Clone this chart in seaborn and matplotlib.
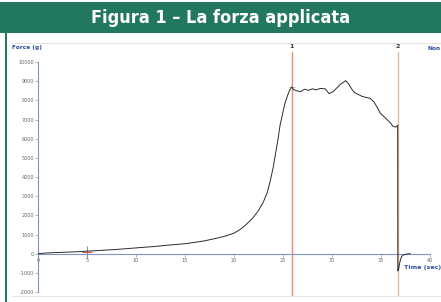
import matplotlib
matplotlib.use("Agg")
import matplotlib.pyplot as plt
import seaborn as sns
import pandas as pd
from matplotlib.patches import Rectangle
from matplotlib.lines import Line2D

# force curve
time_s = [0, 1, 2, 3, 4, 5, 6, 7, 8, 9, 10, 11, 12, 13, 14, 15, 16, 17, 18,
          19, 20, 20.6, 21.2, 21.9, 22.5, 23.0, 23.4, 23.7, 24.0, 24.2, 24.5,
          24.7, 25.0, 25.2, 25.5, 25.7, 25.9, 26.1, 26.4, 26.8, 27.2, 27.6,
          28.0, 28.4, 28.8, 29.3, 29.7, 30.1, 30.5, 30.9, 31.2, 31.4, 31.7,
          32.0, 32.3, 32.7, 33.1, 33.5, 33.9, 34.3, 34.6, 34.9, 35.3, 35.7,
          36.0, 36.2, 36.5, 36.6, 36.7, 36.72, 36.8, 36.9, 37.0, 37.1, 37.3,
          37.6, 38.0]
force_g = [0, 40, 60, 80, 100, 130, 160, 190, 220, 260, 300, 340, 380, 430,
           475, 520, 590, 670, 780, 900, 1070, 1250, 1500, 1850, 2250, 2700,
           3200, 3800, 4500, 5100, 6000, 6700, 7400, 7850, 8300, 8550, 8700,
           8550, 8500, 8450, 8580, 8520, 8600, 8550, 8620, 8600, 8350, 8450,
           8650, 8850, 8950, 9030, 8850, 8600, 8400, 8300, 8200, 8150, 8100,
           7900, 7650, 7350, 7150, 6950, 6800, 6650, 6600, 6650, 6700, -900,
           -800, -500, -300, -150, -60, -20, 0]

marker_labels = ["1", "2"]
marker_times = [25.9, 36.7]
marker_colors = ["#ef8a72", "#dfb89c"]

cursor_time = 5
cursor_force = 100

x_ticks = [0, 5, 10, 15, 20, 25, 30, 35, 40]
y_ticks = [-2000, -1000, 0, 1000, 2000, 3000, 4000, 5000, 6000, 7000, 8000,
           9000, 10000]

df = pd.DataFrame({"Time": time_s, "Force": force_g})

sns.set_theme(style="white")
plt.rcParams["axes.unicode_minus"] = False

W, H = 441, 302
fig = plt.figure(figsize=(W / 100, H / 100), dpi=100)

# green banner + frame
green = "#21785e"
fig.patches.append(Rectangle((0, 1 - 33 / H), 1, 31 / H, transform=fig.transFigure,
                             facecolor=green, edgecolor="none"))
fig.patches.append(Rectangle((5 / W, 0), 2 / W, 1 - 33 / H, transform=fig.transFigure,
                             facecolor=green, edgecolor="none"))
fig.text(0.5, 1 - 18 / H, "Figura 1 \u2013 La forza applicata", color="white",
         ha="center", va="center", fontsize=13, fontweight="heavy",
         fontstretch="condensed", family="DejaVu Sans")
for yy in (43, 296):
    fig.add_artist(Line2D([12 / W, 1], [1 - yy / H, 1 - yy / H],
                          transform=fig.transFigure, color="#e4e4e4", lw=0.8))

ax = fig.add_axes([38 / W, 1 - 292 / H, (430 - 38) / W, (292 - 62) / H])
ax.set_facecolor("none")

# marker lines
for lab, tm, col in zip(marker_labels, marker_times, marker_colors):
    ax.axvline(tm, ymin=-0.017, ymax=1.043, color=col, lw=1.0, clip_on=False, zorder=1)
    fig.text(38 / W + tm / 40 * (430 - 38) / W, 1 - 47 / H, lab, ha="center",
             va="center", fontsize=4.5, color="#333333", fontweight="bold")

sns.lineplot(data=df, x="Time", y="Force", ax=ax, color="#2b2b2b", lw=0.7,
             estimator=None, sort=False, zorder=3)

# cursors
ax.plot([cursor_time], [cursor_force], marker="|", ms=8, color="#888888", mew=0.7)
ax.plot([cursor_time], [cursor_force], marker="_", ms=7, color="#e05a40", mew=0.8)
ax.plot([marker_times[0]], [max(force_g[:40])], marker="+", ms=4, color="#aaaaaa", mew=0.6)

ax.set_xlim(0, 40)
ax.set_ylim(-2000, 10000)
ax.set_xticks(x_ticks)
ax.set_yticks(y_ticks)
ax.set_xticklabels([str(v) for v in x_ticks])
ax.set_yticklabels([str(v) for v in y_ticks])
ax.set_xlabel("")
ax.set_ylabel("")

axis_col = "#7b93c6"
for s in ("top", "right"):
    ax.spines[s].set_visible(False)
ax.spines["bottom"].set_position(("data", 0))
ax.spines["bottom"].set_color(axis_col)
ax.spines["left"].set_color(axis_col)
ax.spines["bottom"].set_linewidth(0.8)
ax.spines["left"].set_linewidth(0.8)
ax.tick_params(axis="both", which="major", length=2, width=0.5, color="#999999",
               labelsize=3.5, labelcolor="#666666", pad=1, direction="out",
               bottom=True, left=True)

lab_col = "#2f4f9f"
fig.text(12 / W, 1 - 48 / H, "Force (g)", color=lab_col, fontsize=4.2,
         fontweight="bold", ha="left", va="center")
fig.text(428 / W, 1 - 48 / H, "Non", color=lab_col, fontsize=4.2,
         fontweight="bold", ha="left", va="center")
fig.text(404 / W, 1 - 267 / H, "Time (sec)", color=lab_col, fontsize=4.6,
         fontweight="bold", ha="left", va="center")

fig.savefig("out.png", dpi=100)
